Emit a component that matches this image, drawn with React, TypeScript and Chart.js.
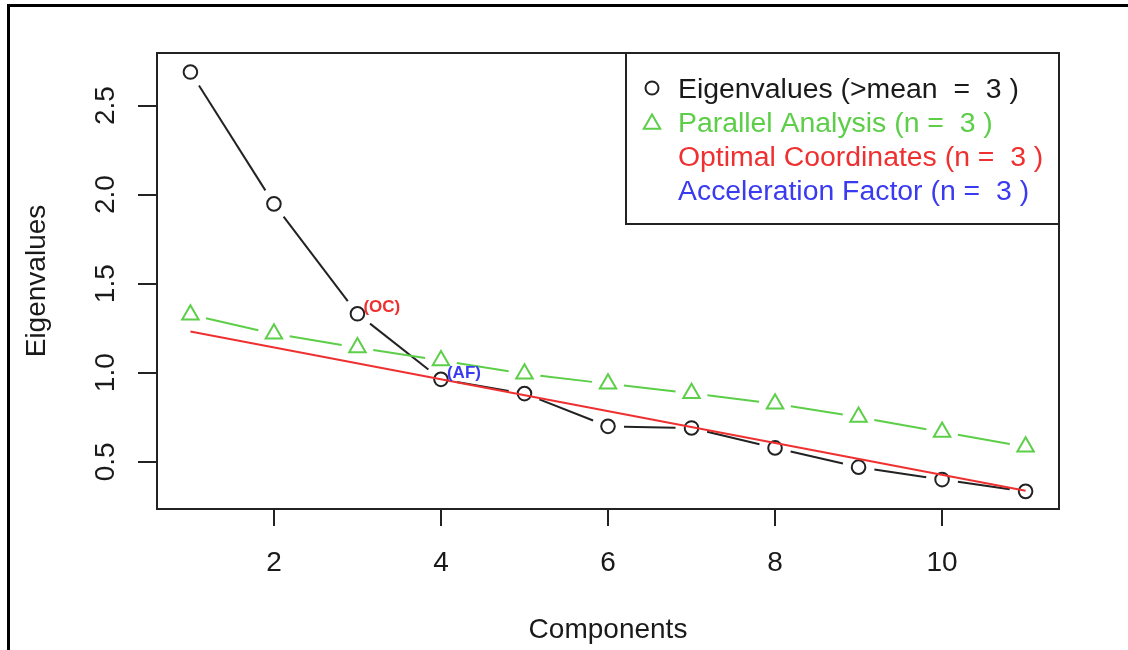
import React, { useEffect, useRef } from 'react';
import { Chart, registerables } from 'chart.js';

Chart.register(...registerables);

// ---------------- data ----------------
const components = [1, 2, 3, 4, 5, 6, 7, 8, 9, 10, 11];
const eigenvalues = [2.688, 1.948, 1.331, 0.963, 0.883, 0.699, 0.69, 0.578, 0.47, 0.4, 0.334];
const parallelAnalysis = [1.326, 1.219, 1.141, 1.069, 0.994, 0.938, 0.885, 0.826, 0.751, 0.667, 0.584];
const optimalCoordX = [1, 11];
const optimalCoordY = [1.232, 0.338];

const xTickValues = [2, 4, 6, 8, 10];
const yTickValues = [0.5, 1.0, 1.5, 2.0, 2.5];
const xRange = [0.6, 11.4];
const yRange = [0.235, 2.795];

const legendLabels = [
  'Eigenvalues (>mean  =  3 )',
  'Parallel Analysis (n =  3 )',
  'Optimal Coordinates (n =  3 )',
  'Acceleration Factor (n =  3 )',
];
const legendSymbols = ['circle', 'triangle', '', ''];

const annotationLabels = ['(OC)', '(AF)'];
const annotationComponents = [3, 4];

// ---------------- styles ----------------
const FONT = "'Liberation Sans', Arial, Helvetica, sans-serif";
const INK = '#1a1a1a';
const GREEN = '#5cce48';
const RED = '#ef3030';
const BLUE = '#3a3af0';
const legendColors = [INK, GREEN, RED, BLUE];
const annotationColors = [RED, BLUE];
const GAP = 16;
const TRI_R = 9.5;

const gappedDash = (ctx: any) => {
  const L = Math.hypot(ctx.p1.x - ctx.p0.x, ctx.p1.y - ctx.p0.y);
  if (L <= 2 * GAP) return [0, L + 100];
  return [0, GAP, L - 2 * GAP, GAP + 100];
};

const drawTriangle = (c: CanvasRenderingContext2D, x: number, y: number, r: number) => {
  c.beginPath();
  for (let k = 0; k < 3; k++) {
    const a = (k * 2 * Math.PI) / 3;
    const px = x + Math.sin(a) * r;
    const py = y - Math.cos(a) * r;
    if (k === 0) c.moveTo(px, py);
    else c.lineTo(px, py);
  }
  c.closePath();
  c.stroke();
};

const decorPlugin = {
  id: 'decor',
  beforeDraw(chart: any) {
    const c = chart.ctx as CanvasRenderingContext2D;
    c.save();
    c.fillStyle = '#ffffff';
    c.fillRect(0, 0, chart.width, chart.height);
    c.fillStyle = '#000000';
    c.fillRect(7, 4, chart.width - 7, 3);
    c.fillRect(7, 4, 3, chart.height - 4);
    c.restore();
  },
  afterDatasetsDraw(chart: any) {
    const c = chart.ctx as CanvasRenderingContext2D;
    const area = chart.chartArea;
    const xs = chart.scales.x;
    const ys = chart.scales.y;
    c.save();
    // plot box
    c.strokeStyle = '#222';
    c.lineWidth = 2;
    c.strokeRect(area.left, area.top, area.right - area.left, area.bottom - area.top);

    // annotations
    c.font = `bold 17px ${FONT}`;
    c.textAlign = 'left';
    c.textBaseline = 'middle';
    annotationLabels.forEach((lab, i) => {
      const comp = annotationComponents[i];
      const idx = components.indexOf(comp);
      const px = xs.getPixelForValue(comp);
      const py = ys.getPixelForValue(eigenvalues[idx]);
      c.fillStyle = annotationColors[i];
      c.fillText(lab, px + 6, py - 6);
    });

    // legend
    const boxW = 433;
    const boxH = 171;
    const bx = area.right - boxW;
    const by = area.top;
    c.fillStyle = '#ffffff';
    c.fillRect(bx, by, boxW, boxH);
    c.strokeStyle = '#222';
    c.lineWidth = 2;
    c.strokeRect(bx, by, boxW, boxH);
    c.font = `28.4px ${FONT}`;
    c.textBaseline = 'alphabetic';
    legendLabels.forEach((lab, i) => {
      const cy = by + 35 + i * 34;
      const sx = bx + 26;
      if (legendSymbols[i] === 'circle') {
        c.strokeStyle = '#222';
        c.lineWidth = 2;
        c.beginPath();
        c.arc(sx, cy, 6.5, 0, Math.PI * 2);
        c.stroke();
      } else if (legendSymbols[i] === 'triangle') {
        c.strokeStyle = GREEN;
        c.lineWidth = 2;
        drawTriangle(c, sx, cy + 2, TRI_R);
      }
      c.fillStyle = legendColors[i];
      c.fillText(lab, bx + 52, cy + 10);
    });
    c.restore();
  },
};

export default function App() {
  const ref = useRef<HTMLCanvasElement | null>(null);

  useEffect(() => {
    if (!ref.current) return;
    const chart = new Chart(ref.current, {
      type: 'line',
      data: {
        datasets: [
          {
            label: 'Optimal Coordinates',
            data: optimalCoordX.map((x, i) => ({ x, y: optimalCoordY[i] })),
            borderColor: RED,
            borderWidth: 2,
            pointRadius: 0,
            fill: false,
            order: 0,
          },
          {
            label: 'Parallel Analysis',
            data: components.map((x, i) => ({ x, y: parallelAnalysis[i] })),
            borderColor: GREEN,
            borderWidth: 2,
            pointStyle: 'triangle',
            pointRadius: TRI_R,
            pointBorderWidth: 2,
            pointBorderColor: GREEN,
            pointBackgroundColor: 'rgba(0,0,0,0)',
            fill: false,
            order: 1,
            segment: { borderDash: gappedDash },
          },
          {
            label: 'Eigenvalues',
            data: components.map((x, i) => ({ x, y: eigenvalues[i] })),
            borderColor: '#222',
            borderWidth: 2,
            pointStyle: 'circle',
            pointRadius: 6.8,
            pointBorderWidth: 2,
            pointBorderColor: '#222',
            pointBackgroundColor: 'rgba(0,0,0,0)',
            fill: false,
            order: 2,
            segment: { borderDash: gappedDash },
          },
        ] as any,
      },
      options: {
        animation: false,
        responsive: false,
        maintainAspectRatio: false,
        devicePixelRatio: 1,
        layout: { padding: { top: 53, right: 69, left: 0, bottom: 0 } },
        plugins: { legend: { display: false }, tooltip: { enabled: false } },
        scales: {
          x: {
            type: 'linear',
            min: xRange[0],
            max: xRange[1],
            afterBuildTicks: (s: any) => {
              s.ticks = xTickValues.map((v) => ({ value: v }));
            },
            afterFit: (s: any) => {
              s.height = 141;
            },
            grid: { drawOnChartArea: false, drawTicks: true, tickLength: 17, color: '#222', lineWidth: 2 },
            border: { display: false },
            ticks: {
              font: { family: FONT, size: 28 },
              color: INK,
              padding: 20,
              maxRotation: 0,
              autoSkip: false,
              callback: (v: any) => String(v),
            },
            title: {
              display: true,
              text: 'Components',
              font: { family: FONT, size: 28 },
              color: INK,
              padding: { top: 0, bottom: 3 },
            },
          },
          y: {
            type: 'linear',
            min: yRange[0],
            max: yRange[1],
            afterBuildTicks: (s: any) => {
              s.ticks = yTickValues.map((v) => ({ value: v }));
            },
            afterFit: (s: any) => {
              s.width = 157;
            },
            grid: { drawOnChartArea: false, drawTicks: true, tickLength: 19, color: '#222', lineWidth: 2 },
            border: { display: false },
            ticks: {
              font: { family: FONT, size: 28 },
              color: INK,
              padding: 12.5,
              minRotation: 90,
              maxRotation: 90,
              crossAlign: 'center',
              autoSkip: false,
              callback: (v: any) => Number(v).toFixed(1),
            },
            title: {
              display: true,
              text: 'Eigenvalues',
              font: { family: FONT, size: 28 },
              color: INK,
              padding: { top: 20, bottom: 0 },
            },
          },
        },
      } as any,
      plugins: [decorPlugin],
    });
    return () => chart.destroy();
  }, []);

  return (
    <div style={{ position: 'absolute', left: 0, top: 0, width: 1128, height: 650 }}>
      <canvas ref={ref} width={1128} height={650} style={{ display: 'block', width: 1128, height: 650 }} />
    </div>
  );
}
